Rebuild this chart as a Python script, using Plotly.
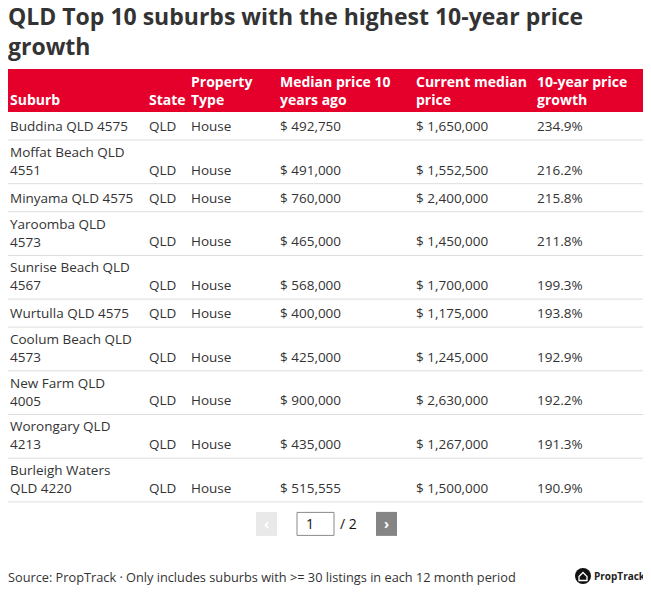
import plotly.graph_objects as go

# ---------------- data ----------------
title = "QLD Top 10 suburbs with the highest 10-year price growth"
columns = ["Suburb", "State", "Property Type", "Median price 10 years ago",
           "Current median price", "10-year price growth"]
suburbs = ["Buddina QLD 4575", "Moffat Beach QLD 4551", "Minyama QLD 4575",
           "Yaroomba QLD 4573", "Sunrise Beach QLD 4567", "Wurtulla QLD 4575",
           "Coolum Beach QLD 4573", "New Farm QLD 4005", "Worongary QLD 4213",
           "Burleigh Waters QLD 4220"]
states = ["QLD"] * 10
property_types = ["House"] * 10
median_10y_ago = [492750, 491000, 760000, 465000, 568000, 400000, 425000,
                  900000, 435000, 515555]
current_median = [1650000, 1552500, 2400000, 1450000, 1700000, 1175000,
                  1245000, 2630000, 1267000, 1500000]
growth_pct = [234.9, 216.2, 215.8, 211.8, 199.3, 193.8, 192.9, 192.2, 191.3, 190.9]
page, pages = 1, 2
source = "Source: PropTrack \u00b7 Only includes suburbs with >= 30 listings in each 12 month period"
brand = "PropTrack"

# ---------------- layout / style ----------------
W, H = 651, 595
OFF = 8  # page body margin of the browser
FONT = "Open Sans"
RED = "#e4002b"
TXT = "#333333"
GRID = "#dddddd"
col_x = [7, 146, 188, 277, 413, 534, 645]   # column edges
PAD = 0.5
header_top, header_h = 69, 43
EXTRA = 15.7
BODY_SIZE, HEAD_SIZE = 13.5, 14
K_BODY, K_HEAD = 72, 68   # wrap budget (per-mille em units) per pixel of column

# approximate glyph widths (per-mille em) to decide wrapping
_w = {' ': 270, 'B': 700, 'M': 800, 'S': 600, 'Y': 600, 'W': 950, 'C': 680,
      'N': 750, 'F': 570, 'Q': 770, 'L': 530, 'D': 740,
      'a': 580, 'b': 640, 'c': 550, 'd': 640, 'e': 590, 'f': 350, 'g': 640,
      'h': 640, 'i': 270, 'l': 270, 'm': 990, 'n': 640, 'o': 610, 'r': 390,
      's': 490, 't': 390, 'u': 630, 'w': 860, 'y': 560, '1': 370}


def text_w(s):
    return sum(_w.get(c, 620) for c in s)


def wrap(s, limit):
    words, lines, cur = s.split(" "), [], ""
    for wd in words:
        t = (cur + " " + wd).strip()
        if cur and text_w(t) > limit:
            lines.append(cur)
            cur = wd
        else:
            cur = t
    lines.append(cur)
    return lines


def money(v):
    return "$ {:,}".format(v)


col_w = [col_x[i + 1] - col_x[i] - 4 for i in range(len(columns))]
rows = []
for i in range(len(suburbs)):
    cells = [suburbs[i], states[i], property_types[i], money(median_10y_ago[i]),
             money(current_median[i]), "{:.1f}%".format(growth_pct[i])]
    rows.append([wrap(v, col_w[c] * K_BODY) for c, v in enumerate(cells)])
header_wrapped = [wrap(c, col_w[i] * K_HEAD) for i, c in enumerate(columns)]

annotations = []
shapes = []


def ann(x, y, text, size, color, bold=False, xanchor="left"):
    if bold:
        text = "<b>%s</b>" % text
    xshift = 0
    if x < OFF + 1:          # keep the anchor inside the axis range
        xshift = x - (OFF + 1)
        x = OFF + 1
    annotations.append(dict(x=x, y=y, xshift=xshift, text=text, xref="x", yref="y",
                            xanchor=xanchor, yanchor="middle", showarrow=False,
                            align="left", font=dict(family=FONT, size=size, color=color)))


# title
title_lines = wrap(title, 26000)
ann(5.5, 31, "<br>".join("<b>%s</b>" % l for l in title_lines), 23, TXT)

# header
shapes.append(dict(type="rect", xref="x", yref="y", x0=col_x[0], x1=col_x[-1],
                   y0=header_top, y1=header_top + header_h, fillcolor=RED,
                   line=dict(width=0), layer="below"))
hsp = HEAD_SIZE * 1.3
hc = header_top + 21
for c, hl in enumerate(header_wrapped):
    if len(hl) == 2:
        ann(col_x[c] + PAD, hc, "<br>".join("<b>%s</b>" % l for l in hl), HEAD_SIZE, "white")
    else:
        ann(col_x[c] + PAD, hc + hsp / 2, hl[0], HEAD_SIZE, "white", bold=True)

# body rows
bsp = BODY_SIZE * 1.3
top = header_top + header_h
for r in rows:
    n = max(len(c) for c in r)
    h = 28 + EXTRA * (n - 1)
    mid = top + h / 2 - (1 if n > 1 else 0)
    for c, cell in enumerate(r):
        m = len(cell)
        y = mid + (n - m) * bsp / 2
        ann(col_x[c] + PAD, y, "<br>".join(cell), BODY_SIZE, TXT)
    top += h
    shapes.append(dict(type="line", xref="x", yref="y", x0=col_x[0], x1=col_x[-1],
                       y0=top, y1=top, line=dict(color=GRID, width=1)))

# pagination
py = top + 22
shapes.append(dict(type="rect", xref="x", yref="y", x0=256, x1=277, y0=py - 12, y1=py + 12,
                   fillcolor="#e9e9e9", line=dict(width=0)))
ann(266.5, py, "\u2039", 14, "white", bold=True, xanchor="center")
shapes.append(dict(type="rect", xref="x", yref="y", x0=297, x1=334, y0=py - 11.5, y1=py + 11.5,
                   fillcolor="white", line=dict(color="#8a8a8a", width=1)))
ann(304, py, str(page), 14, "#111111")
ann(338, py, "/ %d" % pages, 14, "#111111")
shapes.append(dict(type="rect", xref="x", yref="y", x0=376, x1=397, y0=py - 12, y1=py + 12,
                   fillcolor="#858585", line=dict(width=0)))
ann(386.5, py, "\u203a", 14, "white", bold=True, xanchor="center")

# footer
ann(6, 577, source, 12.75, TXT)
shapes.append(dict(type="circle", xref="x", yref="y", x0=575, x1=591, y0=568, y1=584,
                   fillcolor="#111111", line=dict(width=0)))
shapes.append(dict(type="path", xref="x", yref="y",
                   path="M 579 576.5 L 583 572.5 L 587 576.5 L 587 580.5 L 579 580.5 Z",
                   line=dict(color="white", width=1.3)))
ann(592, 576, brand, 10, "#222222", bold=True)

fig = go.Figure()
fig.add_trace(go.Scatter(x=[OFF, W], y=[OFF, H], mode="markers",
                         marker=dict(opacity=0), hoverinfo="skip", showlegend=False))
fig.update_layout(
    width=W - OFF, height=H - OFF, margin=dict(l=0, r=0, t=0, b=0),
    paper_bgcolor="white", plot_bgcolor="white",
    xaxis=dict(range=[OFF, W], visible=False, fixedrange=True),
    yaxis=dict(range=[H, OFF], visible=False, fixedrange=True),
    annotations=annotations, shapes=shapes, showlegend=False,
)
fig.write_html("out.html")
